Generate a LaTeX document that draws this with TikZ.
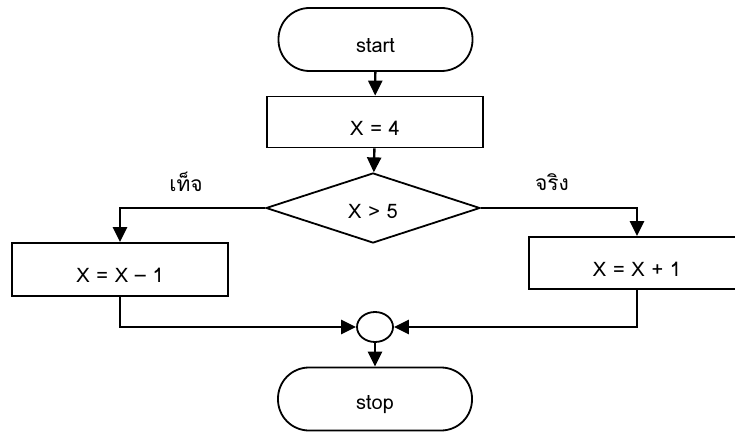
\documentclass[tikz,border=0pt]{standalone}
\usepackage{fontspec}
\setmainfont[Script=Thai]{Loma}
\usetikzlibrary{arrows.meta,shapes.geometric}
\begin{document}
\begin{tikzpicture}[x=1pt,y=-1pt,
  box/.style={draw,line width=1.8pt,minimum width=216pt,inner sep=0pt},
  term/.style={box,rounded corners=31pt,minimum width=194pt,minimum height=63pt},
  proc/.style={box,minimum height=51pt},
  dec/.style={draw,line width=1.8pt,diamond,aspect=3,minimum width=214pt,minimum height=70pt,inner sep=0pt},
  junc/.style={draw,line width=1.8pt,ellipse,minimum width=36pt,minimum height=30pt,inner sep=0pt},
  txt/.style={font=\fontsize{20}{24}\selectfont,yshift=-6pt},
  lbl/.style={font=\fontsize{21}{25}\selectfont},
  conn/.style={line width=2.4pt,-{Triangle[length=15pt,width=14pt]}},
  line/.style={line width=2.4pt}]
\useasboundingbox (0,0) rectangle (735,435);
\node[term,label={[txt]center:start}] (start) at (375.5,39.5) {};
\node[proc,label={[txt]center:X = 4}] (x4) at (375,122) {};
\node[dec,label={[txt,yshift=3pt]center:X > 5}] (d) at (373,208) {};
\node[proc,minimum height=53pt,label={[txt]center:X = X – 1}] (lb) at (120,269.5) {};
\node[proc,minimum height=52pt,label={[txt]center:X = X + 1}] (rb) at (637,263) {};
\node[junc] (j) at (375,327) {};
\node[term,label={[txt]center:stop}] (stop) at (375,399) {};
\node[lbl] (f) at (186,182) {เท็จ};
\node[lbl] (t) at (552,182) {จริง};
\draw[conn] (start) -- (x4);
\draw[conn] (x4) -- (d);
\draw[conn] (d.west) -| (lb.north);
\draw[conn] (d.east) -| (rb.north);
\draw[conn] (lb.south) |- (j.west);
\draw[conn] (rb.south) |- (j.east);
\draw[conn] (j) -- (stop);
\end{tikzpicture}
\end{document}
